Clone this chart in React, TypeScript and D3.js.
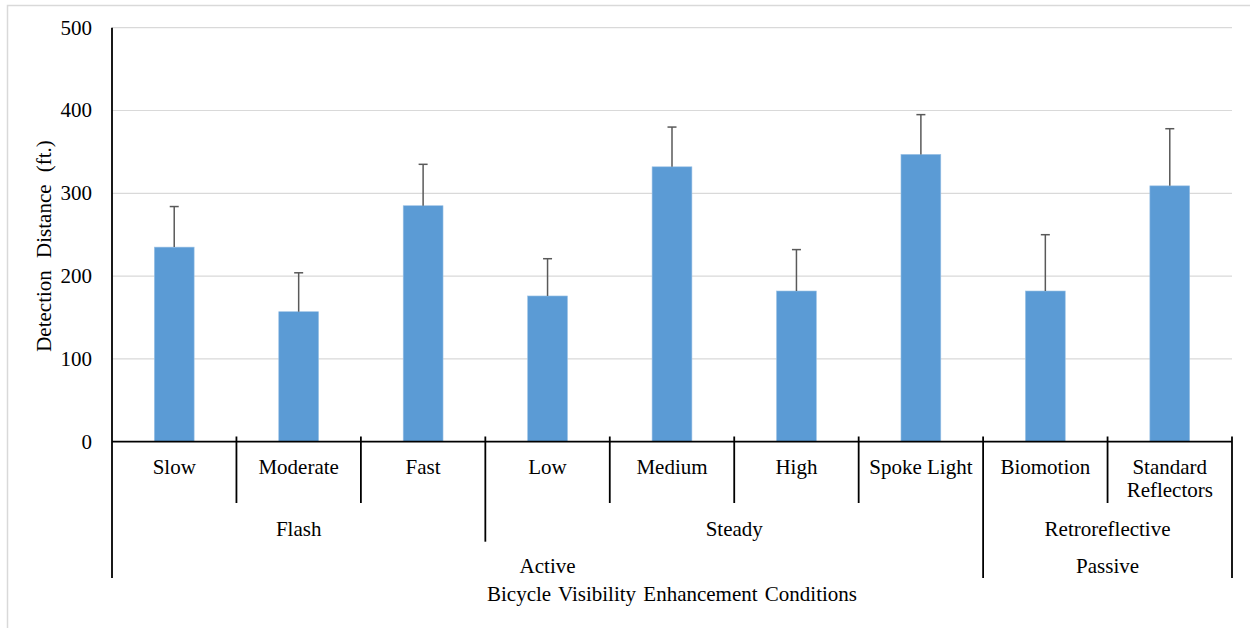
import React from 'react';
import * as d3 from 'd3';

// categories (level 1), their sub-groups (level 2) and top groups (level 3)
const categories = ['Slow', 'Moderate', 'Fast', 'Low', 'Medium', 'High', 'Spoke Light', 'Biomotion', 'Standard Reflectors'];
const means = [235, 157, 285, 176, 332, 182, 347, 182, 309];
const errorTops = [284, 204, 335, 221, 380, 232, 395, 250, 378];
const subGroups = ['Flash', 'Steady', 'Retroreflective'];
const subGroupSizes = [3, 4, 2];
const mainGroups = ['Active', 'Passive'];
const mainGroupSizes = [7, 2];
const yTicks = [0, 100, 200, 300, 400, 500];

const W = 1250;
const H = 628;
const left = 112;
const right = 1232;
const top = 27.7;
const bottom = 441.7;
const font = "'Liberation Serif', 'Times New Roman', serif";

function cumulative(sizes: number[]) {
  const out = [0];
  sizes.forEach(s => out.push(out[out.length - 1] + s));
  return out;
}

export default function App() {
  const x = d3
    .scaleBand()
    .domain(categories)
    .range([left, right])
    .paddingInner(0.68)
    .paddingOuter(0.34);
  const step = x.step();
  const edge = (i: number) => left + i * step;

  const y = d3.scaleLinear().domain([0, 500]).range([bottom, top]);

  const subBounds = cumulative(subGroupSizes);
  const mainBounds = cumulative(mainGroupSizes);

  const dividerDepth = (i: number) => {
    if (mainBounds.includes(i)) return 578;
    if (subBounds.includes(i)) return 541.7;
    return 503;
  };

  return (
    <svg width={W} height={H} style={{ position: 'absolute', left: 0, top: 0 }} fontFamily={font} fontSize={21}>
      <rect x={0} y={0} width={W} height={H} fill="#fff" />
      <rect x={7.5} y={5.5} width={W + 20} height={H + 20} fill="none" stroke="#d9d9d9" strokeWidth={1.5} />

      {yTicks.map(t => (
        <g key={t}>
          {t > 0 && <line x1={left} x2={right} y1={y(t)} y2={y(t)} stroke="#d9d9d9" strokeWidth={1.2} />}
          <text x={92} y={y(t)} dy="0.33em" textAnchor="end" fill="#000">
            {t}
          </text>
        </g>
      ))}

      {categories.map((c, i) => {
        const bx = x(c) as number;
        const cx = bx + x.bandwidth() / 2;
        return (
          <g key={c}>
            <rect
              x={bx}
              y={y(means[i])}
              width={x.bandwidth()}
              height={y(0) - y(means[i])}
              fill="#5b9bd5"
              stroke="#9cc2e5"
              strokeWidth={0.6}
            />
            <line x1={cx} x2={cx} y1={y(means[i])} y2={y(errorTops[i])} stroke="#595959" strokeWidth={1.5} />
            <line x1={cx - 4.5} x2={cx + 4.5} y1={y(errorTops[i])} y2={y(errorTops[i])} stroke="#595959" strokeWidth={1.5} />
          </g>
        );
      })}

      {/* axes */}
      <line x1={left} x2={left} y1={top} y2={578} stroke="#000" strokeWidth={1.8} />
      <line x1={left} x2={right} y1={bottom} y2={bottom} stroke="#000" strokeWidth={1.8} />
      {d3.range(1, categories.length + 1).map(i => (
        <line key={i} x1={edge(i)} x2={edge(i)} y1={436.5} y2={dividerDepth(i)} stroke="#000" strokeWidth={1.8} />
      ))}

      {categories.map(c => {
        const cx = (x(c) as number) + x.bandwidth() / 2;
        const lines = c.length > 14 ? c.split(' ') : [c];
        return (
          <text key={c} x={cx} y={474} textAnchor="middle" fill="#000">
            {lines.map((l, j) => (
              <tspan key={j} x={cx} dy={j === 0 ? 0 : 23}>
                {l}
              </tspan>
            ))}
          </text>
        );
      })}

      {subGroups.map((g, i) => (
        <text key={g} x={(edge(subBounds[i]) + edge(subBounds[i + 1])) / 2} y={536} textAnchor="middle" fill="#000">
          {g}
        </text>
      ))}
      {mainGroups.map((g, i) => (
        <text key={g} x={(edge(mainBounds[i]) + edge(mainBounds[i + 1])) / 2} y={573} textAnchor="middle" fill="#000">
          {g}
        </text>
      ))}

      <text x={(left + right) / 2} y={601} textAnchor="middle" fill="#000" wordSpacing={2}>
        Bicycle Visibility Enhancement Conditions
      </text>
      <text
        transform={`translate(51,246) rotate(-90)`}
        textAnchor="middle"
        fill="#000"
        wordSpacing={7}
      >
        Detection Distance (ft.)
      </text>
    </svg>
  );
}
